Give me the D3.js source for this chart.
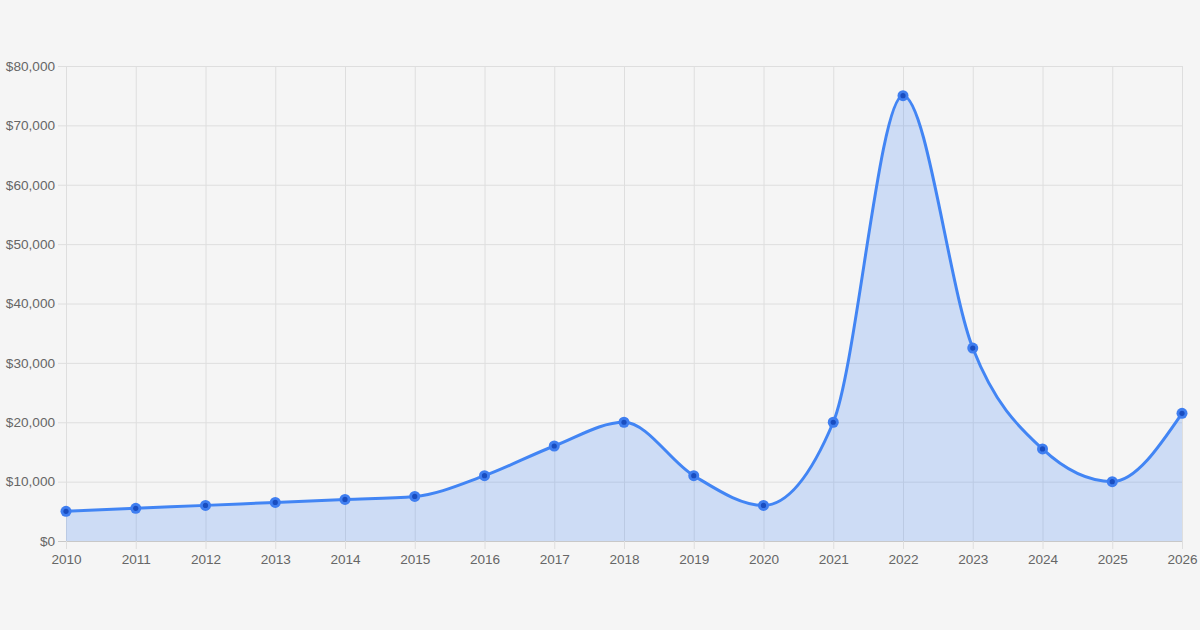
<!DOCTYPE html>
<html>
<head>
<meta charset="utf-8">
<script src="https://cdn.jsdelivr.net/npm/d3@7"></script>
<style>
  body { margin:0; background:#f5f5f5; }
  svg { display:block; }
  .tick text { font-family:"Liberation Sans", Arial, sans-serif; font-size:13.6px; fill:#666; }
</style>
</head>
<body>
<svg></svg>
<script>
var years = [2010,2011,2012,2013,2014,2015,2016,2017,2018,2019,2020,2021,2022,2023,2024,2025,2026];
var values = [5000,5500,6000,6500,7000,7500,11000,16000,20000,11000,6000,20000,75000,32500,15500,10000,21500];
var yTicks = [0,10000,20000,30000,40000,50000,60000,70000,80000];

var screen = {width:1200,height:630};
var margin = {left:66,right:18,top:66,bottom:89};

var svg = d3.select("svg")
            .attr("width",screen.width)
            .attr("height",screen.height);

var x = d3.scaleLinear()
          .domain([years[0],years[years.length-1]])
          .range([margin.left,screen.width-margin.right]);
var y = d3.scaleLinear()
          .domain([0,80000])
          .range([screen.height-margin.bottom,margin.top]);

var data = years.map(function(d,i){ return {year:d,value:values[i]}; });

// grid + axes
var yAxis = svg.append("g")
  .attr("transform","translate("+margin.left+",0)")
  .call(d3.axisLeft(y).tickValues(yTicks)
          .tickSize(-(screen.width-margin.left-margin.right))
          .tickPadding(11)
          .tickFormat(function(d){ return "$"+d3.format(",")(d); }));
yAxis.select(".domain").remove();
yAxis.selectAll(".tick line")
  .attr("x1",-8)
  .attr("stroke",function(d){ return d==0 ? "#c8c8c8" : "#dedede"; });

var xAxis = svg.append("g")
  .attr("transform","translate(0,"+(screen.height-margin.bottom)+")")
  .call(d3.axisBottom(x).tickValues(years)
          .tickSize(-(screen.height-margin.top-margin.bottom))
          .tickPadding(13)
          .tickFormat(d3.format("d")));
xAxis.select(".domain").remove();
xAxis.selectAll(".tick line")
  .attr("y1",8)
  .attr("stroke","#dedede");

// area + line
var area = d3.area()
  .x(function(d){ return x(d.year); })
  .y0(y(0))
  .y1(function(d){ return y(d.value); })
  .curve(d3.curveMonotoneX);

var line = d3.line()
  .x(function(d){ return x(d.year); })
  .y(function(d){ return y(d.value); })
  .curve(d3.curveMonotoneX);

svg.append("path")
  .datum(data)
  .attr("d",area)
  .attr("fill","rgba(66,133,244,0.22)");

svg.append("path")
  .datum(data)
  .attr("d",line)
  .attr("fill","none")
  .attr("stroke","#4285f4")
  .attr("stroke-width",3);

var pts = svg.append("g")
  .selectAll("g")
  .data(data)
  .enter()
  .append("g");

pts.append("circle")
  .attr("cx",function(d){ return x(d.year); })
  .attr("cy",function(d){ return y(d.value); })
  .attr("r",5.5)
  .attr("fill","#3f7ef0");

pts.append("circle")
  .attr("cx",function(d){ return x(d.year); })
  .attr("cy",function(d){ return y(d.value); })
  .attr("r",2.6)
  .attr("fill","#1a4dbf");
</script>
</body>
</html>
